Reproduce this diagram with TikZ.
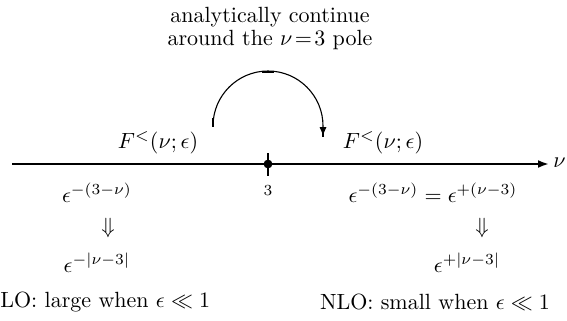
\documentclass[tikz,border=0pt]{standalone}
\usepackage{amsmath,amssymb}
\usetikzlibrary{arrows.meta}
\begin{document}
\begin{tikzpicture}[x=0.4545pt,y=-0.4545pt,
  txt/.style={inner sep=0pt,anchor=center},
  axisline/.style={line width=0.9pt},
  thinarc/.style={line width=0.5pt},
  stub/.style={line width=1.3pt}]
\useasboundingbox (0,0) rectangle (567,320);
% axis
\coordinate (a0) at (12,164);
\coordinate (a1) at (549,164);
\draw[axisline,-{Latex[length=5pt,width=3.6pt]}] (a0) -- (a1);
\node[txt,anchor=west] (nu) at (553,163) {$\nu$};
% tick and dot
\coordinate (p) at (268,164);
\draw[stub] (268,153) -- (268,176);
\fill (p) circle[radius=2pt];
\node[txt] (three) at (268,191) {\scriptsize $3$};
% arc
\coordinate (arcL) at (213,126);
\coordinate (arcR) at (323,126);
\coordinate (arcE) at (323,136);
\draw[thinarc,-{Latex[length=4pt,width=3.2pt]}] (arcL) arc[start angle=180,end angle=0,radius=25pt] -- (arcE);
\draw[stub] (213,118) -- (213,127);
\draw[stub] (262,72) -- (274,72);
\draw[stub] (323,133) -- (323,137);
% title
\node[txt] (t1) at (270,17) {analytically continue};
\node[txt] (t2) at (270,40) {around the $\nu\!=\!3$ pole};
% left column
\node[txt] (fl) at (158,143) {$F^{<}(\nu;\epsilon)$};
\node[txt] (el) at (97,193) {$\epsilon^{-(3-\nu)}$};
\node[txt] (dl) at (108,228) {$\Downarrow$};
\node[txt] (al) at (97,263) {$\epsilon^{-|\nu-3|}$};
\node[txt] (nl) at (97,302) {NLO: large when $\epsilon\ll 1$};
% right column
\node[txt] (fr) at (383,143) {$F^{<}(\nu;\epsilon)$};
\node[txt] (er) at (433,193) {$\epsilon^{-(3-\nu)}=\epsilon^{+(\nu-3)}$};
\node[txt] (dr) at (482,228) {$\Downarrow$};
\node[txt] (ar) at (467,263) {$\epsilon^{+|\nu-3|}$};
\node[txt] (nr) at (435,302) {NLO: small when $\epsilon\ll 1$};
\end{tikzpicture}
\end{document}
